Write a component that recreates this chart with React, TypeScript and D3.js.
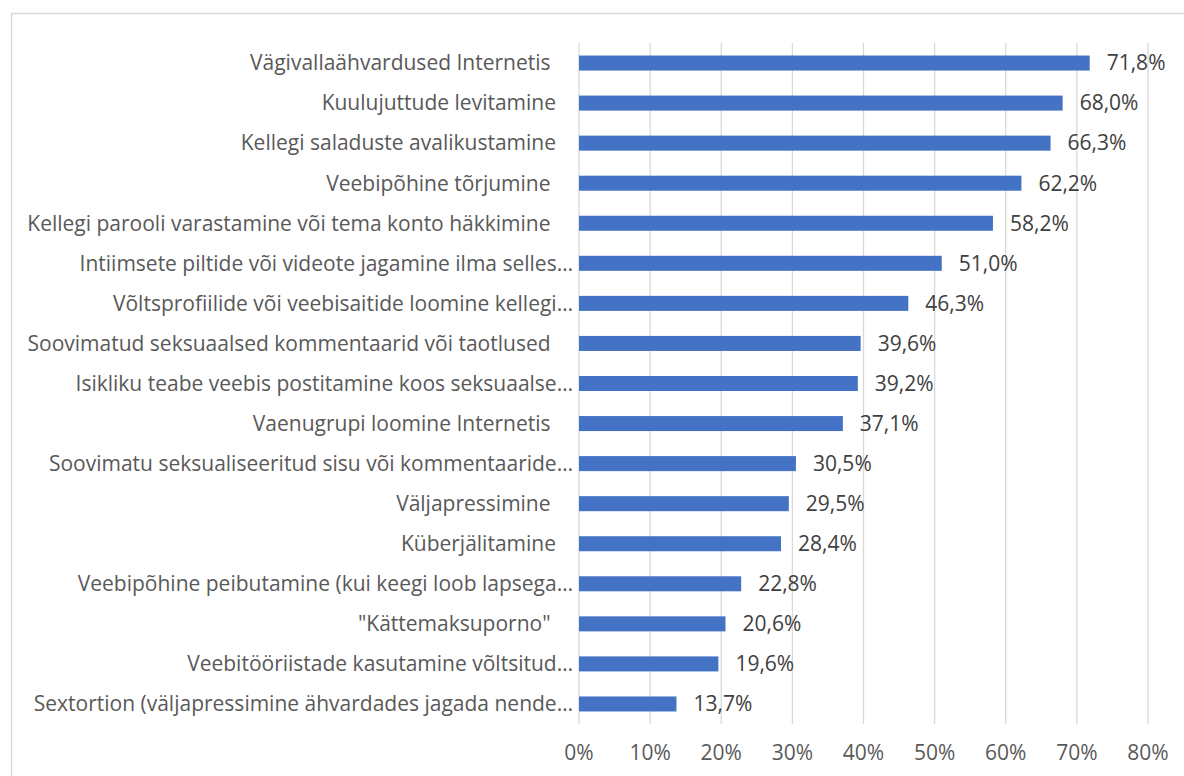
import React from "react";
import * as d3 from "d3";

const categories: string[] = [
  "Vägivallaähvardused Internetis ",
  "Kuulujuttude levitamine",
  "Kellegi saladuste avalikustamine",
  "Veebipõhine tõrjumine ",
  "Kellegi parooli varastamine või tema konto häkkimine ",
  "Intiimsete piltide või videote jagamine ilma selles…",
  "Võltsprofiilide või veebisaitide loomine kellegi…",
  "Soovimatud seksuaalsed kommentaarid või taotlused ",
  "Isikliku teabe veebis postitamine koos seksuaalse…",
  "Vaenugrupi loomine Internetis ",
  "Soovimatu seksualiseeritud sisu või kommentaaride…",
  "Väljapressimine ",
  "Küberjälitamine",
  "Veebipõhine peibutamine (kui keegi loob lapsega…",
  "\"Kättemaksuporno\" ",
  "Veebitööriistade kasutamine võltsitud…",
  "Sextortion (väljapressimine ähvardades jagada nende…",
];

const values: number[] = [
  71.8, 68.0, 66.3, 62.2, 58.2, 51.0, 46.3, 39.6, 39.2, 37.1, 30.5, 29.5, 28.4,
  22.8, 20.6, 19.6, 13.7,
];

const ticks: number[] = [0, 10, 20, 30, 40, 50, 60, 70, 80];

const W = 1184;
const H = 776;
const FONT = "'Open Sans', sans-serif";

export default function App() {
  const x = d3.scaleLinear().domain([0, 80]).range([579, 1148]);
  const y = d3
    .scaleBand<string>()
    .domain(categories)
    .range([43, 724])
    .paddingInner(0.625)
    .paddingOuter(0.3125);
  const fmt = (v: number) => v.toFixed(1).replace(".", ",") + "%";
  return (
    <svg
      width={W}
      height={H}
      style={{ position: "absolute", left: 0, top: 0, background: "#fff" }}
      fontFamily={FONT}
    >
      <rect x={11.5} y={13.5} width={W} height={H} fill="#fff" stroke="#d9d9d9" strokeWidth={1.5} />
      {ticks.map((t) => (
        <line key={"g" + t} x1={x(t)} x2={x(t)} y1={43} y2={724} stroke="#d9d9d9" strokeWidth={1.3} />
      ))}
      {categories.map((c, i) => {
        const yy = y(c)! + y.bandwidth() / 2;
        const ell = c.endsWith("…");
        return (
          <g key={c}>
            <rect x={x(0)} y={y(c)} width={x(values[i]) - x(0)} height={y.bandwidth()} fill="#4472c4" />
            <text
              x={ell ? 573 : 556}
              y={yy}
              dy="0.35em"
              textAnchor="end"
              fontSize={21}
              fill="#595959"
              style={{ whiteSpace: "pre" }}
            >
              {c}
            </text>
            <text x={x(values[i]) + 17} y={yy} dy="0.35em" fontSize={21} fill="#404040">
              {fmt(values[i])}
            </text>
          </g>
        );
      })}
      {ticks.map((t) => (
        <text key={"t" + t} x={x(t)} y={753} dy="0.35em" textAnchor="middle" fontSize={21} fill="#595959">
          {t + "%"}
        </text>
      ))}
    </svg>
  );
}
